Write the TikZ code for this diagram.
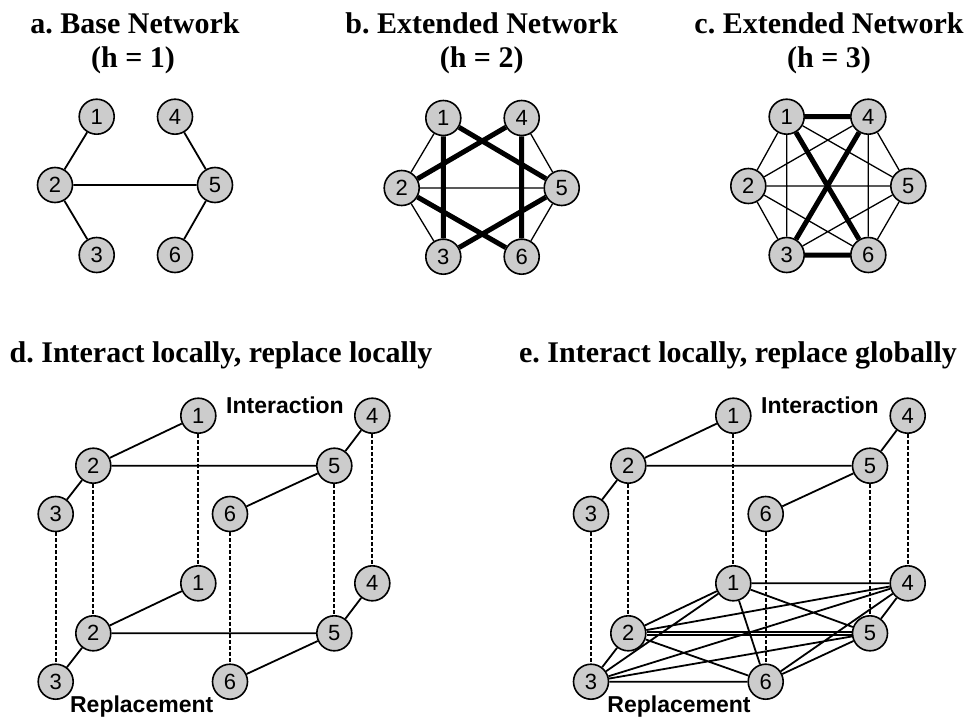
\documentclass[tikz,border=0pt]{standalone}
\usepackage{fontspec}
\setmainfont{Liberation Serif}
\newfontfamily\sansf{Liberation Sans}
\frenchspacing
\begin{document}
\begin{tikzpicture}[x=1pt,y=-1pt,
  nd/.style={circle,draw,line width=1.6pt,fill=black!20,minimum size=35pt,inner sep=0pt,font=\sansf\fontsize{22}{22}\selectfont},
  ed/.style={line width=1.8pt},
  tn/.style={line width=1.3pt},
  thk/.style={line width=5pt},
  dotl/.style={line width=1.9pt,dash pattern=on 3.5pt off 2.5pt},
  ttl/.style={anchor=base,font=\bfseries\fontsize{30}{36}\selectfont,inner sep=0pt},
  lbl/.style={anchor=base,font=\sansf\bfseries\fontsize{23}{26}\selectfont,inner sep=0pt}]
\useasboundingbox (0,0) rectangle (975,717);
\fill[white] (0,0) rectangle (975,717);

% titles
\node[ttl] (ta1) at (135,34) {a. Base Network};
\node[ttl] (ta2) at (133,67) {(h = 1)};
\node[ttl] (tb1) at (481.7,34) {b. Extended Network};
\node[ttl] (tb2) at (481.7,67) {(h = 2)};
\node[ttl] (tc1) at (829,34) {c. Extended Network};
\node[ttl] (tc2) at (829,67) {(h = 3)};
\node[ttl] (td) at (221,362) {d. Interact locally, replace locally};
\node[ttl] (te) at (738,362) {e. Interact locally, replace globally};

% panel a
\node[nd] (a1) at (96.7,116.7) {1};
\node[nd] (a4) at (175,116.7) {4};
\node[nd] (a2) at (55,185) {2};
\node[nd] (a5) at (215,185) {5};
\node[nd] (a3) at (96.7,255) {3};
\node[nd] (a6) at (175,255) {6};
\draw[ed] (a1)--(a2) (a2)--(a3) (a2)--(a5) (a4)--(a5) (a5)--(a6);

% panel b
\node[nd] (b1) at (443.3,118) {1};
\node[nd] (b4) at (521.7,118) {4};
\node[nd] (b2) at (401.7,188) {2};
\node[nd] (b5) at (561.7,188) {5};
\node[nd] (b3) at (443.3,256.7) {3};
\node[nd] (b6) at (521.7,256.7) {6};
\draw[tn] (b1)--(b2) (b2)--(b3) (b2)--(b5) (b4)--(b5) (b5)--(b6);
\draw[thk] (b1)--(b3) (b1)--(b5) (b4)--(b2) (b4)--(b6) (b2)--(b6) (b3)--(b5);

% panel c
\node[nd] (c1) at (786.7,116.7) {1};
\node[nd] (c4) at (868.3,116.7) {4};
\node[nd] (c2) at (748.3,186) {2};
\node[nd] (c5) at (908.3,186) {5};
\node[nd] (c3) at (786.7,255) {3};
\node[nd] (c6) at (868.3,255) {6};
\draw[tn] (c1)--(c2) (c1)--(c3) (c1)--(c5) (c2)--(c3) (c2)--(c4) (c2)--(c5) (c2)--(c6)
  (c3)--(c5) (c4)--(c5) (c4)--(c6) (c5)--(c6);
\draw[thk] (c1)--(c4) (c1)--(c6) (c4)--(c3) (c3)--(c6);

% panel d
\node[nd] (dt1) at (198.3,415.7) {1};
\node[nd] (dt4) at (372.3,415.7) {4};
\node[nd] (dt2) at (93.3,465.7) {2};
\node[nd] (dt5) at (334.3,465.7) {5};
\node[nd] (dt3) at (55.7,514) {3};
\node[nd] (dt6) at (230,514) {6};
\node[nd] (db1) at (198.3,583.3) {1};
\node[nd] (db4) at (372.3,583.3) {4};
\node[nd] (db2) at (93.3,633.3) {2};
\node[nd] (db5) at (334.3,633.3) {5};
\node[nd] (db3) at (55.7,681.7) {3};
\node[nd] (db6) at (230,681.7) {6};
\draw[ed] (dt1)--(dt2) (dt2)--(dt3) (dt2)--(dt5) (dt4)--(dt5) (dt5)--(dt6);
\draw[ed] (db1)--(db2) (db2)--(db3) (db2)--(db5) (db4)--(db5) (db5)--(db6);
\draw[dotl] (dt1)--(db1) (dt2)--(db2) (dt3)--(db3) (dt4)--(db4) (dt5)--(db5) (dt6)--(db6);
\node[lbl] (dint) at (285,413) {Interaction};
\node[lbl] (drep) at (141.7,712) {Replacement};

% panel e
\node[nd] (et1) at (733.3,415.7) {1};
\node[nd] (et4) at (907.7,415.7) {4};
\node[nd] (et2) at (628.3,465.7) {2};
\node[nd] (et5) at (870,465.7) {5};
\node[nd] (et3) at (591,514) {3};
\node[nd] (et6) at (765.7,514) {6};
\node[nd] (eb1) at (733.3,583.3) {1};
\node[nd] (eb4) at (907.7,583.3) {4};
\node[nd] (eb2) at (628.3,633.3) {2};
\node[nd] (eb5) at (870,633.3) {5};
\node[nd] (eb3) at (591,681.7) {3};
\node[nd] (eb6) at (765.7,681.7) {6};
\draw[ed] (et1)--(et2) (et2)--(et3) (et2)--(et5) (et4)--(et5) (et5)--(et6);
\draw[dotl] (et1)--(eb1) (et2)--(eb2) (et3)--(eb3) (et4)--(eb4) (et5)--(eb5) (et6)--(eb6);
\draw[ed] (eb1)--(eb2) (eb1)--(eb3) (eb1)--(eb4) (eb1)--(eb5) (eb1)--(eb6)
  (eb2)--(eb3) (eb2)--(eb4) (eb2)--(eb6)
  (eb3)--(eb4) (eb3)--(eb5) (eb3)--(eb6)
  (eb4)--(eb5) (eb4)--(eb6) (eb5)--(eb6);
\draw[ed] ([yshift=-1.4pt]eb2.east)--([yshift=-1.4pt]eb5.west);
\draw[ed] ([yshift=1.4pt]eb2.east)--([yshift=1.4pt]eb5.west);
\node[lbl] (eint) at (820,413) {Interaction};
\node[lbl] (erep) at (679,712) {Replacement};
\end{tikzpicture}
\end{document}
